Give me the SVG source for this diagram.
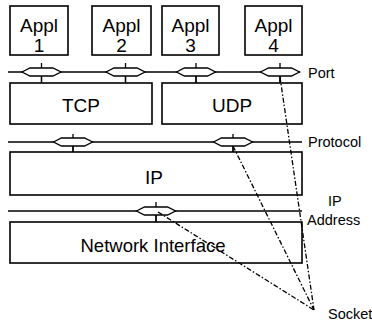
<svg xmlns="http://www.w3.org/2000/svg" width="372" height="322" viewBox="0 0 372 322">
<style>
.box{fill:#fff;stroke:#000;stroke-width:1.6}
.ln{fill:none;stroke:#000;stroke-width:1.3}
.hex{fill:#fff;stroke:#000;stroke-width:1.3}
.dash{fill:none;stroke:#000;stroke-width:1.3;stroke-dasharray:5,2,1.5,2}
.t{font-family:"Liberation Sans",Arial,sans-serif;fill:#000;text-anchor:middle}
.big{font-size:19px}
.lab{font-family:"Liberation Sans",Arial,sans-serif;fill:#000;font-size:14.5px}
</style>
<defs>
<path id="hx" d="M-19.5,0 L-11.5,-4 L11.5,-4 L19.5,0 L11.5,4 L-11.5,4 Z"/>
</defs>
<rect width="372" height="322" fill="#fff"/>
<g id="appl1"><rect class="box" x="10" y="6" width="58" height="49"/><text class="t big" x="39" y="32">Appl</text><text class="t big" x="39" y="52">1</text></g>
<g id="appl2"><rect class="box" x="92" y="6" width="59" height="49"/><text class="t big" x="121.5" y="32">Appl</text><text class="t big" x="121.5" y="52">2</text></g>
<g id="appl3"><rect class="box" x="162" y="6" width="57" height="49"/><text class="t big" x="190.5" y="32">Appl</text><text class="t big" x="190.5" y="52">3</text></g>
<g id="appl4"><rect class="box" x="245" y="6" width="57" height="49"/><text class="t big" x="273.5" y="32">Appl</text><text class="t big" x="273.5" y="52">4</text></g>
<g id="tcp"><rect class="box" x="10" y="83" width="142" height="41"/><text class="t big" x="81" y="112">TCP</text></g>
<g id="udp"><rect class="box" x="162" y="83" width="140" height="41"/><text class="t big" x="232" y="112">UDP</text></g>
<g id="ip"><rect class="box" x="10" y="152" width="292" height="43"/><text class="t big" x="154" y="184">IP</text></g>
<g id="netif"><rect class="box" x="10" y="222" width="292" height="41"/><text class="t" font-size="18.5" x="153" y="252">Network Interface</text></g>
<g id="connectors">
<line class="ln" x1="8" y1="72" x2="300" y2="72"/>
<line class="ln" x1="8" y1="142" x2="302" y2="142"/>
<line class="ln" x1="8" y1="211" x2="302" y2="211"/>
<g id="port-sockets">
<line class="ln" x1="41.5" y1="63" x2="41.5" y2="83"/><use href="#hx" class="hex" x="41.5" y="72"/>
<line class="ln" x1="125.5" y1="63" x2="125.5" y2="83"/><use href="#hx" class="hex" x="125.5" y="72"/>
<line class="ln" x1="196" y1="63" x2="196" y2="83"/><use href="#hx" class="hex" x="196" y="72"/>
<line class="ln" x1="280" y1="63" x2="280" y2="83"/><use href="#hx" class="hex" x="280" y="72"/>
<line class="ln" x1="41.5" y1="76" x2="41.5" y2="83" stroke-width="2.2" stroke="#000"/>
<line class="ln" x1="125.5" y1="76" x2="125.5" y2="83" stroke-width="2.2" stroke="#000"/>
<line class="ln" x1="196" y1="76" x2="196" y2="83" stroke-width="2.2" stroke="#000"/>
<line class="ln" x1="280" y1="76" x2="280" y2="83" stroke-width="2.2" stroke="#000"/>
</g>
<g id="proto-sockets">
<line class="ln" x1="73" y1="134" x2="73" y2="152"/><use href="#hx" class="hex" x="73" y="142"/>
<line class="ln" x1="73" y1="146" x2="73" y2="152"/>
<line class="ln" x1="233" y1="134" x2="233" y2="152"/><use href="#hx" class="hex" x="233" y="142"/>
<line class="ln" x1="233" y1="146" x2="233" y2="152"/>
</g>
<g id="addr-socket">
<line class="ln" x1="156" y1="202" x2="156" y2="222"/><use href="#hx" class="hex" x="156" y="211"/>
<line class="ln" x1="156" y1="215" x2="156" y2="222"/>
</g>
<line class="dash" x1="280" y1="77" x2="314" y2="310"/>
<line class="dash" x1="233" y1="146" x2="314" y2="310"/>
<line class="dash" x1="158" y1="212" x2="314" y2="310"/>
</g>
<g id="labels">
<text class="lab" x="308" y="77.5">Port</text>
<text class="lab" x="308" y="147">Protocol</text>
<text class="lab" x="328" y="206">IP</text>
<text class="lab" x="307" y="225">Address</text>
<text class="lab" x="328" y="319">Socket</text>
</g>
</svg>
